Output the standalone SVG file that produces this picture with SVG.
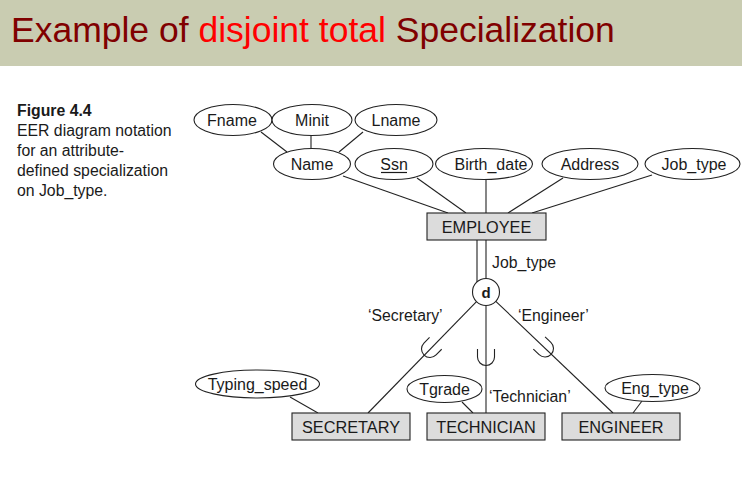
<svg xmlns="http://www.w3.org/2000/svg" width="742" height="478" viewBox="0 0 742 478">
  <style>
    text { font-family: "Liberation Sans", Arial, sans-serif; fill: #1a1a1a; }
    .attr { fill: #ffffff; stroke: #222; stroke-width: 1.1; }
    .ent { fill: #dcdcdc; stroke: #222; stroke-width: 1.1; }
    .lbl { font-size: 16px; text-anchor: middle; }
    .ent-lbl { font-size: 16.3px; text-anchor: middle; }
    .note { font-size: 15.8px; }
    .conn line { stroke: #222; stroke-width: 1.1; fill: none; }
  </style>
  <defs>
    <!-- subset symbol: opens toward the superclass (local -y) -->
    <path id="subset" d="M -8.5,-8 V 0 A 8.5 8.5 0 0 0 8.5,0 V -8" fill="none" stroke="#222" stroke-width="1.1"/>
  </defs>

  <!-- title band -->
  <rect x="0" y="0" width="742" height="66" fill="#c9ccb1"/>
  <text x="11" y="42" style="font-size:35.5px"><tspan fill="#800000">Example of </tspan><tspan fill="#ff0000">disjoint total</tspan><tspan fill="#800000"> Specialization</tspan></text>

  <!-- figure caption -->
  <text class="note" x="17" y="116" style="font-weight:bold">Figure 4.4</text>
  <text class="note" x="17" y="136">EER diagram notation</text>
  <text class="note" x="17" y="156">for an attribute-</text>
  <text class="note" x="17" y="176">defined specialization</text>
  <text class="note" x="17" y="196">on Job_type.</text>

  <!-- connectors -->
  <g id="connectors" class="conn">
    <line x1="261" y1="132" x2="287" y2="152"/>
    <line x1="311" y1="135.5" x2="311" y2="148.5"/>
    <line x1="363" y1="132" x2="339" y2="152"/>
    <line x1="343" y1="176" x2="448" y2="213"/>
    <line x1="417" y1="178" x2="466" y2="213"/>
    <line x1="486" y1="179.5" x2="486" y2="213"/>
    <line x1="563" y1="178" x2="508" y2="213"/>
    <line x1="652" y1="175" x2="532" y2="213"/>
    <!-- total participation (double line) -->
    <line x1="477" y1="240" x2="477" y2="282" style="stroke:#666;stroke-width:1.6"/>
    <line x1="486" y1="240" x2="486" y2="278.5"/>
    <!-- circle to subclasses -->
    <line x1="476.5" y1="301.6" x2="368" y2="413"/>
    <line x1="486" y1="305.5" x2="486" y2="413" style="stroke:#555;stroke-width:1.4"/>
    <line x1="495.8" y1="301.3" x2="613" y2="413"/>
    <!-- subset marks -->
    <use href="#subset" transform="translate(430,349) rotate(44.5)"/>
    <use href="#subset" transform="translate(486,357)"/>
    <use href="#subset" transform="translate(545,348.5) rotate(-46.4)"/>
    <!-- local attributes -->
    <line x1="290" y1="397" x2="318" y2="413"/>
    <line x1="462" y1="402" x2="473" y2="413"/>
    <line x1="642" y1="401" x2="633" y2="413"/>
  </g>

  <!-- attributes of EMPLOYEE -->
  <g id="fname"><ellipse class="attr" cx="233" cy="120" rx="39" ry="15.5"/><text class="lbl" x="232" y="126">Fname</text></g>
  <g id="minit"><ellipse class="attr" cx="312" cy="120" rx="40" ry="15.5"/><text class="lbl" x="312" y="126">Minit</text></g>
  <g id="lname"><ellipse class="attr" cx="396" cy="120" rx="41" ry="15.5"/><text class="lbl" x="396" y="126">Lname</text></g>
  <g id="name"><ellipse class="attr" cx="312" cy="164" rx="38.5" ry="15.5"/><text class="lbl" x="312" y="170">Name</text></g>
  <g id="ssn"><ellipse class="attr" cx="394" cy="164" rx="39" ry="15.5"/><text class="lbl" x="394" y="170">Ssn</text><line x1="381" y1="172.5" x2="407" y2="172.5" stroke="#1a1a1a" stroke-width="1.2"/></g>
  <g id="birth_date"><ellipse class="attr" cx="484" cy="164" rx="48.5" ry="15.5"/><text class="lbl" x="491" y="170">Birth_date</text></g>
  <g id="address"><ellipse class="attr" cx="590" cy="164" rx="48" ry="15.5"/><text class="lbl" x="590" y="170">Address</text></g>
  <g id="job_type"><ellipse class="attr" cx="692.5" cy="164" rx="47.5" ry="15.5"/><text class="lbl" x="694" y="170">Job_type</text></g>

  <!-- EMPLOYEE -->
  <g id="employee"><rect class="ent" x="427" y="213" width="119" height="27"/><text class="ent-lbl" x="486.5" y="232.5">EMPLOYEE</text></g>

  <!-- specialization circle and labels -->
  <g id="disjoint"><circle cx="486" cy="292" r="13.5" fill="#fff" stroke="#222" stroke-width="1.1"/><text x="486" y="297.5" style="font-size:15px;font-weight:bold;text-anchor:middle">d</text></g>
  <text class="note" x="492" y="268">Job_type</text>
  <text class="note" x="368" y="321">‘Secretary’</text>
  <text class="note" x="518" y="321">‘Engineer’</text>
  <text class="note" x="489" y="402">‘Technician’</text>

  <!-- subclass attributes -->
  <g id="typing_speed"><ellipse class="attr" cx="257.5" cy="384" rx="62" ry="14"/><text class="lbl" x="257.5" y="390">Typing_speed</text></g>
  <g id="tgrade"><ellipse class="attr" cx="444.5" cy="389" rx="37.5" ry="13.5"/><text class="lbl" x="444.5" y="395">Tgrade</text></g>
  <g id="eng_type"><ellipse class="attr" cx="652.5" cy="388" rx="47.5" ry="13.5"/><text class="lbl" x="655" y="394">Eng_type</text></g>

  <!-- subclasses -->
  <g id="secretary"><rect class="ent" x="292" y="413" width="118" height="27"/><text class="ent-lbl" x="351" y="432.5">SECRETARY</text></g>
  <g id="technician"><rect class="ent" x="427" y="413" width="118" height="27"/><text class="ent-lbl" x="486" y="432.5">TECHNICIAN</text></g>
  <g id="engineer"><rect class="ent" x="562" y="413" width="118" height="27"/><text class="ent-lbl" x="621" y="432.5">ENGINEER</text></g>
</svg>
